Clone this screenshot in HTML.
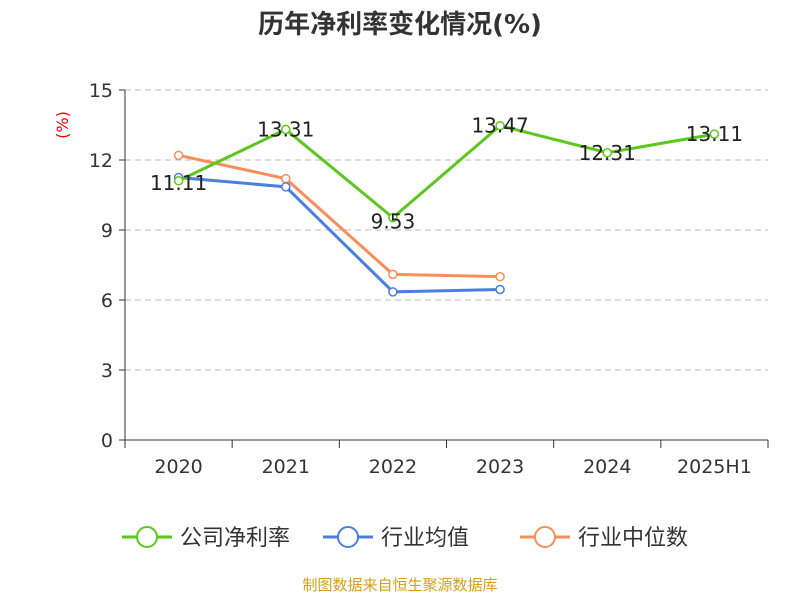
<!DOCTYPE html>
<html><head><meta charset="utf-8"><style>
body{margin:0;background:#fff;font-family:"DejaVu Sans","Noto Sans CJK SC",sans-serif;}
</style></head><body>
<svg width="800" height="600" xmlns="http://www.w3.org/2000/svg" font-family="DejaVu Sans, Noto Sans CJK SC, sans-serif">
<text x="400" y="33" text-anchor="middle" font-size="26" font-weight="bold" fill="#333">历年净利率变化情况(%)</text>
<text x="68" y="125" text-anchor="middle" font-size="16" fill="#e00" transform="rotate(-90 68 125)">(%)</text>
<g id="grid"></g><g id="axes"></g><g id="series"></g>
<g id="legend"></g>
<text x="400" y="590" text-anchor="middle" font-size="15" fill="#d4a017">制图数据来自恒生聚源数据库</text>
</svg>
<script>
const categories=["2020","2021","2022","2023","2024","2025H1"];
const companyVals=[11.11,13.31,9.53,13.47,12.31,13.11];
const avgVals=[11.25,10.85,6.35,6.45];
const medianVals=[12.2,11.2,7.1,7.0];
const yTicks=[0,3,6,9,12,15];
const seriesNames=["公司净利率","行业均值","行业中位数"];
const NS="http://www.w3.org/2000/svg";
const L=125,R=768,T=90,B=440,yMax=15;
const bw=(R-L)/categories.length;
const x=i=>L+bw*(i+0.5);
const y=v=>B-(v/yMax)*(B-T);
function mk(tag,attrs,parent){const e=document.createElementNS(NS,tag);for(const k in attrs)e.setAttribute(k,attrs[k]);parent.appendChild(e);return e;}
const grid=document.getElementById('grid'),axes=document.getElementById('axes'),ser=document.getElementById('series'),leg=document.getElementById('legend');
yTicks.forEach(t=>{
 if(t>0){const g=mk('line',{x1:L,x2:R,y1:y(t),y2:y(t),stroke:'#bbb','stroke-dasharray':'6,4'},grid);
 
 }
 const tk=mk('line',{x1:L-6,x2:L,y1:y(t),y2:y(t),stroke:'#333'},axes);
 
 
 const tx=mk('text',{x:L-12,y:y(t)+7,'text-anchor':'end','font-size':19,fill:'#333'},axes);tx.textContent=t;
 
 
});
const ya=mk('line',{x1:L,x2:L,y1:T,y2:B,stroke:'#333'},axes);


const xa=mk('line',{x1:L,x2:R,y1:B,y2:B,stroke:'#333'},axes);


for(let i=0;i<=categories.length;i++){const tk=mk('line',{x1:L+bw*i,x2:L+bw*i,y1:B,y2:B+8,stroke:'#333'},axes);
 
 }
categories.forEach((c,i)=>{const t=mk('text',{x:x(i),y:B+33,'text-anchor':'middle','font-size':19,fill:'#333'},axes);t.textContent=c;
 
 });
function series(vals,color,name,labels){
 const g=mk('g',{},ser);
 
 
 mk('polyline',{points:vals.map((v,i)=>x(i)+','+y(v)).join(' '),fill:'none',stroke:color,'stroke-width':3},g);
 vals.forEach((v,i)=>{const c=mk('circle',{cx:x(i),cy:y(v),r:4,fill:'#fff',stroke:color,'stroke-width':1.5},g);
  
  
  if(labels){const t=mk('text',{x:x(i),y:y(v)+(i==2?11:i==0?9:7),'text-anchor':'middle','font-size':20,fill:'#222'},g);t.textContent=v.toFixed(2);
  
  }
 });
}
series(medianVals,'#f98e5a','industry-median-series',false);
series(avgVals,'#4a7fe0','industry-average-series',false);
series(companyVals,'#5cc71e','company-net-margin-series',true);
const colors=['#5cc71e','#4a7fe0','#f98e5a'];
const lx=[122,323,520];
seriesNames.forEach((n,i)=>{
 const g=mk('g',{},leg);
 
 
 mk('line',{x1:lx[i],x2:lx[i]+50,y1:537,y2:537,stroke:colors[i],'stroke-width':3},g);
 mk('circle',{cx:lx[i]+25,cy:537,r:10,fill:'#fff',stroke:colors[i],'stroke-width':2},g);
 const t=mk('text',{x:lx[i]+58,y:545,'font-size':22,fill:'#333'},g);t.textContent=n;
});
</script>
</body></html>
